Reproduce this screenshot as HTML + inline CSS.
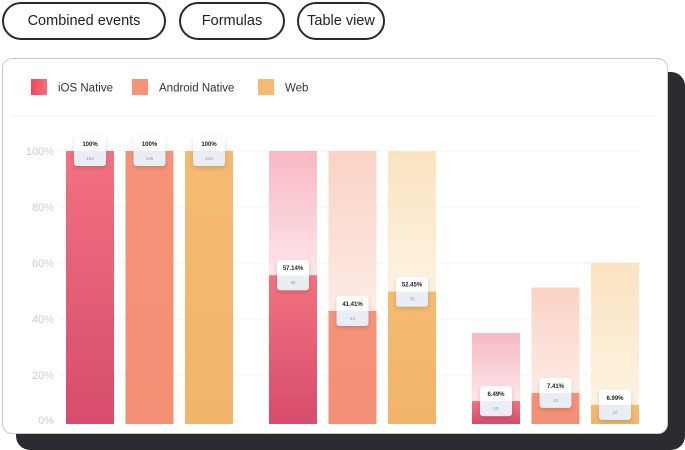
<!DOCTYPE html>
<html><head><meta charset="utf-8"><style>
body{margin:0;width:685px;height:450px;background:#fff;position:relative;overflow:hidden;font-family:"Liberation Sans",sans-serif}
.btn{position:absolute;top:2px;height:34px;border:2px solid #2a2a2e;border-radius:20px;font-size:14.5px;color:#222;display:flex;align-items:center;justify-content:center;box-sizing:content-box;white-space:nowrap}
#shadow{position:absolute;left:16px;top:72px;width:669px;height:378px;background:#2d2b31;border-radius:14px}
#card{position:absolute;left:2px;top:58px;width:664px;height:374px;background:#fff;border:1px solid #c9c9cc;border-radius:10px}
</style></head><body>
<div class="btn" style="left:2px;width:160px">Combined events</div>
<div class="btn" style="left:179px;width:102px">Formulas</div>
<div class="btn" style="left:297px;width:84px">Table view</div>
<div id="shadow"></div>
<div id="card"></div>
<svg id="chart" width="685" height="450" style="position:absolute;left:0;top:0">
<defs>
<linearGradient id="g0" x1="0" y1="0" x2="0" y2="1"><stop offset="0" stop-color="#f3727f"/><stop offset="1" stop-color="#d64c6d"/></linearGradient>
<linearGradient id="g1" x1="0" y1="0" x2="0" y2="1"><stop offset="0" stop-color="#f59379"/><stop offset="1" stop-color="#f28f74"/></linearGradient>
<linearGradient id="g2" x1="0" y1="0" x2="0" y2="1"><stop offset="0" stop-color="#f4bb70"/><stop offset="1" stop-color="#f2b46a"/></linearGradient>
<linearGradient id="l0" x1="0" y1="0" x2="0" y2="1"><stop offset="0" stop-color="#f8b8c3"/><stop offset="1" stop-color="#fde6ea"/></linearGradient>
<linearGradient id="l1" x1="0" y1="0" x2="0" y2="1"><stop offset="0" stop-color="#fad2c4"/><stop offset="1" stop-color="#fdece5"/></linearGradient>
<linearGradient id="l2" x1="0" y1="0" x2="0" y2="1"><stop offset="0" stop-color="#fbe3c0"/><stop offset="1" stop-color="#fdf3e2"/></linearGradient>
<linearGradient id="sw0" x1="0" y1="0" x2="1" y2="0"><stop offset="0" stop-color="#f2445f"/><stop offset="1" stop-color="#f6707f"/></linearGradient>
<filter id="sh" x="-30%" y="-30%" width="160%" height="180%"><feDropShadow dx="0" dy="2" stdDeviation="2" flood-opacity="0.15"/></filter>
</defs>
</svg>
<script>
const series=["iOS Native","Android Native","Web"];
const steps=["Step 1","Step 2","Step 3"];
const totals=[[100,100,100],[100,100,100],[33.3,50,59]];
const fills=[[100,100,100],[54.5,41.4,48.5],[8.4,11.4,7]];
const pctLabels=[["100%","100%","100%"],["57.14%","41.41%","52.45%"],["6.49%","7.41%","6.99%"]];
const counts=[["154","135","143"],["88","64","75"],["10","10","10"]];
const ticks=[100,80,60,40,20,0];
const NS="http://www.w3.org/2000/svg",svg=document.getElementById('chart');
function el(t,a,p){const e=document.createElementNS(NS,t);for(const k in a)e.setAttribute(k,a[k]);(p||svg).appendChild(e);return e;}
const y=v=>424-v/100*273, gy=t=>151+(100-t)*2.8;
const x=(g,s)=>66+g*203+s*59.5;
const swc=["url(#sw0)","#f59379","#f4bb70"],lx=[31,132,258];
series.forEach((n,i)=>{
 const r=el('rect',{x:lx[i],y:79,width:16,height:16,fill:swc[i]});
 
 const t=el('text',{x:lx[i]+27,y:91.5,'font-size':11.5,fill:'#333'});t.textContent=n;
 
});
const sep=el('line',{x1:12,x2:656,y1:116,y2:116,stroke:'#f3f3f5'});

ticks.forEach(t=>{
 if(t>0){const l=el('line',{x1:60,x2:640,y1:gy(t),y2:gy(t),stroke:'#f3f3f5'});
 }
 const tx=el('text',{x:54,y:t>0?gy(t)+4:424,'text-anchor':'end','font-size':11,fill:'#cdcdd3'});tx.textContent=t+'%';
 
});
steps.forEach((st,g)=>series.forEach((s,i)=>{
 const bx=x(g,i);
 if(totals[g][i]>fills[g][i]){const r=el('rect',{x:bx,y:y(totals[g][i]),width:48,height:y(fills[g][i])-y(totals[g][i]),fill:'url(#l'+i+')'});
 }
 const b=el('rect',{x:bx,y:y(fills[g][i]),width:48,height:424-y(fills[g][i]),fill:'url(#g'+i+')'});
 
}));
steps.forEach((st,g)=>series.forEach((s,i)=>{
 const cx=x(g,i)+24,cy=y(fills[g][i]);
 const gr=el('g',{filter:'url(#sh)'});
 
 el('rect',{x:cx-16,y:cy-15,width:32,height:30,rx:3,fill:'#eaedf4'},gr);
 el('path',{d:`M${cx-16} ${cy} V${cy-12} a3 3 0 0 1 3 -3 H${cx+13} a3 3 0 0 1 3 3 V${cy} Z`,fill:'#fff'},gr);
 const t1=el('text',{x:cx,y:cy-5,'text-anchor':'middle','font-size':6,'font-weight':'bold',fill:'#222'},gr);t1.textContent=pctLabels[g][i];
 const t2=el('text',{x:cx,y:cy+9,'text-anchor':'middle','font-size':4.5,fill:'#999'},gr);t2.textContent=counts[g][i];
}));
</script>
</body></html>
